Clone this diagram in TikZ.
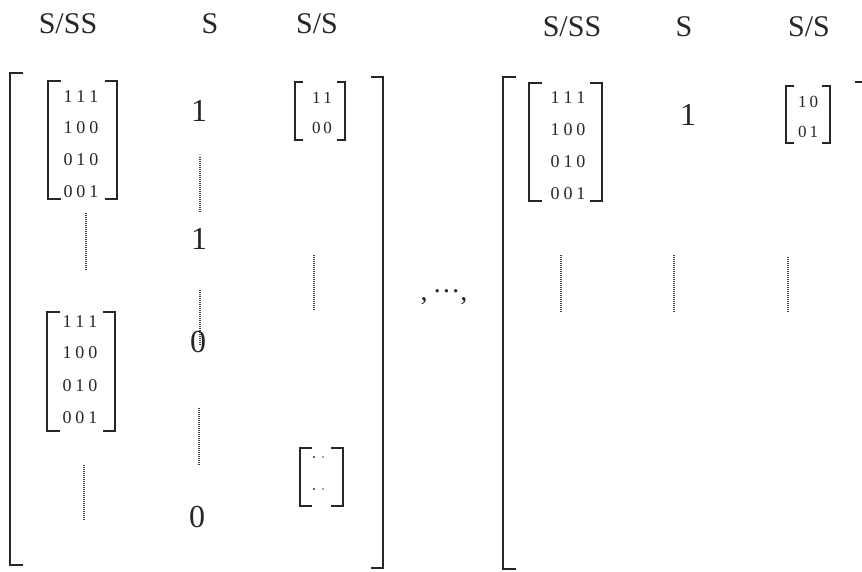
\documentclass[tikz,border=0pt]{standalone}
\usepackage{fontspec}
\setmainfont{Liberation Serif}
\newcommand\myLB[5]{\draw[#1] ({#2+#5},#3) -- (#2,#3) -- (#2,#4) -- ({#2+#5},#4);}
\newcommand\myRB[5]{\draw[#1] ({#2-#5},#3) -- (#2,#3) -- (#2,#4) -- ({#2-#5},#4);}
\begin{document}
\begin{tikzpicture}[x=1pt,y=-1pt,
  bigbr/.style={line width=1.9pt, black!85},
  smbr/.style={line width=1.5pt, black!85},
  dotl/.style={line width=1.6pt, black!75, dash pattern=on 1pt off 1pt},
  hdr/.style={font=\fontsize{30}{30}\selectfont, inner sep=0, text=black!85},
  num/.style={font=\fontsize{32}{32}\selectfont, inner sep=0, text=black!85},
  ent/.style={font=\fontsize{18}{18}\selectfont, inner sep=0, text=black!85},
  sent/.style={font=\fontsize{17}{17}\selectfont, inner sep=0, text=black!85}]
\useasboundingbox (0,0) rectangle (862,572);
\fill[white] (0,0) rectangle (862,572);
% headers
\node[hdr] (h1) at (68,24) {S/SS};
\node[hdr] (h2) at (210,24) {S};
\node[hdr] (h3) at (317,24) {S/S};
\node[hdr] (h4) at (572,27) {S/SS};
\node[hdr] (h5) at (684,27) {S};
\node[hdr] (h6) at (809,27) {S/S};
% left big bracket
\myLB{bigbr}{10}{73}{565}{13}
\myRB{bigbr}{383}{77}{568}{12}
% inner matrix 1
\myLB{smbr}{48}{81}{199}{13}
\myRB{smbr}{117}{81}{199}{12}
\node[ent] (a1) at (81,97) {1\hspace{4pt}1\hspace{4pt}1};
\node[ent] (a2) at (81,128) {1\hspace{4pt}0\hspace{4pt}0};
\node[ent] (a3) at (81,160) {0\hspace{4pt}1\hspace{4pt}0};
\node[ent] (a4) at (81,192) {0\hspace{4pt}0\hspace{4pt}1};
% inner matrix 2
\myLB{smbr}{47}{312}{431}{13}
\myRB{smbr}{115}{312}{431}{12}
\node[ent] (b1) at (80,322) {1\hspace{4pt}1\hspace{4pt}1};
\node[ent] (b2) at (80,353) {1\hspace{4pt}0\hspace{4pt}0};
\node[ent] (b3) at (80,386) {0\hspace{4pt}1\hspace{4pt}0};
\node[ent] (b4) at (80,418) {0\hspace{4pt}0\hspace{4pt}1};
% S column
\node[num] (s1) at (199,111) {1};
\node[num] (s2) at (199,239) {1};
\node[num] (s3) at (198,342) {0};
\node[num] (s4) at (197,517) {0};
% small matrices
\myLB{smbr}{295}{82}{140}{8}
\myRB{smbr}{345}{82}{140}{8}
\node[sent] (c1) at (322,98) {1\hspace{3pt}1};
\node[sent] (c2) at (322,128) {0\hspace{3pt}0};
\myLB{smbr}{300}{448}{506}{12}
\myRB{smbr}{343}{448}{506}{12}
\fill[black!80] (314,457) circle (1.2);
\fill[black!45] (323,457) circle (1.2);
\fill[black!80] (314,489) circle (1.2);
\fill[black!45] (323,489) circle (1.2);
% dotted lines left
\draw[dotl] (86,213) -- (86,270);
\draw[dotl] (200,157) -- (200,212);
\draw[dotl] (200,290) -- (200,345);
\draw[dotl] (199,408) -- (199,465);
\draw[dotl] (84,465) -- (84,520);
\draw[dotl] (314,255) -- (314,310);
% separator
\node[font=\fontsize{28}{28}\selectfont, inner sep=0, text=black!85] (sep) at (444,297) {,\hspace{5pt}·\hspace{0pt}·\hspace{0pt}·,};
% right big bracket
\myLB{bigbr}{503}{77}{569}{13}
\draw[bigbr] (855,82) -- (862,82);
\myLB{smbr}{529}{83}{201}{13}
\myRB{smbr}{602}{83}{201}{12}
\node[ent] (d1) at (568,98) {1\hspace{4pt}1\hspace{4pt}1};
\node[ent] (d2) at (568,130) {1\hspace{4pt}0\hspace{4pt}0};
\node[ent] (d3) at (568,162) {0\hspace{4pt}1\hspace{4pt}0};
\node[ent] (d4) at (568,194) {0\hspace{4pt}0\hspace{4pt}1};
\node[num] (s5) at (688,115) {1};
\myLB{smbr}{786}{86}{143}{8}
\myRB{smbr}{830}{86}{143}{8}
\node[sent] (e1) at (808,102) {1\hspace{3pt}0};
\node[sent] (e2) at (808,132) {0\hspace{3pt}1};
\draw[dotl] (561,255) -- (561,313);
\draw[dotl] (674,255) -- (674,313);
\draw[dotl] (788,257) -- (788,313);
\end{tikzpicture}
\end{document}
